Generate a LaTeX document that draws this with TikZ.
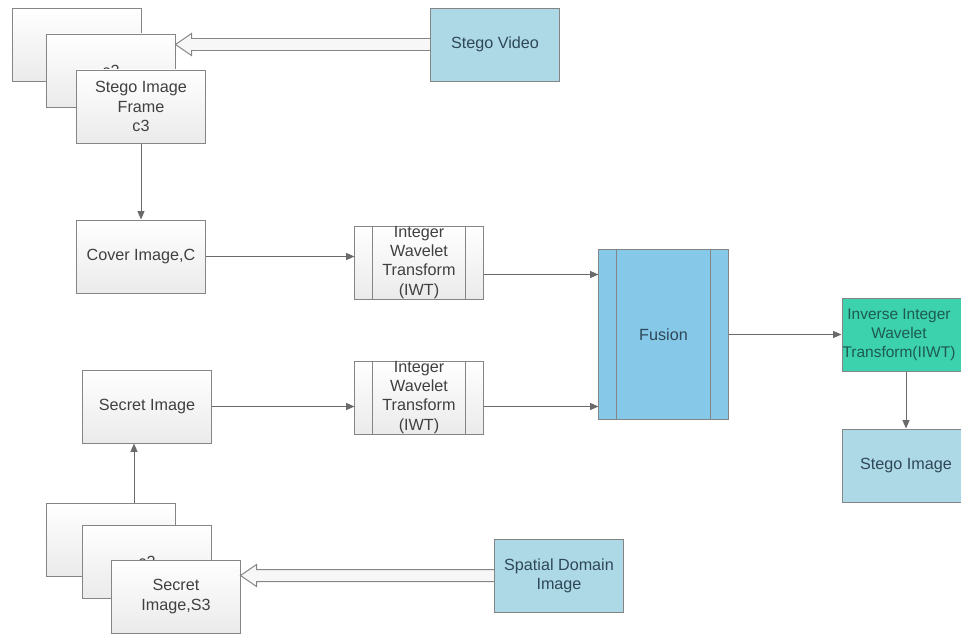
\documentclass[tikz,border=0pt]{standalone}
\usepackage{fontspec}
\setmainfont{Liberation Sans}
\usetikzlibrary{arrows.meta,calc}
\definecolor{boxline}{HTML}{858585}
\definecolor{wireline}{HTML}{6A6A6A}
\definecolor{paleblue}{HTML}{ADD8E6}
\definecolor{fusionblue}{HTML}{86C8E8}
\definecolor{iiwtgreen}{HTML}{3CD2AE}
\definecolor{slatetext}{HTML}{2F4858}
\definecolor{tealtext}{HTML}{1E5A50}

\begin{document}
\begin{tikzpicture}[
  x=0.025cm, y=-0.025cm,
  font=\fontsize{11.5}{13.6}\selectfont,
  basebox/.style={
    draw=boxline,
    line width=0.7pt,
    minimum width=3.2cm,
    minimum height=1.825cm,
    align=center,
    inner sep=0pt
  },
  imgbox/.style={basebox, top color=white, bottom color=black!8, text=black!75},
  bluebox/.style={basebox, fill=paleblue, text=slatetext},
  edge/.style={draw=wireline, line width=0.7pt, -{Triangle[length=6pt,width=5pt]}},
  hollow/.style={draw=boxline, line width=0.7pt, fill=black!3}
]
\useasboundingbox (0,0) rectangle (961,633);

% stego frames
\node[imgbox] (framea) at (77,44.5) {};
\node[imgbox] (frameb) at (111,70.5) {c2};
\node[imgbox] (framec) at (141,106.5) {Stego Image\\Frame\\c3};
\node[bluebox] (video) at (495,44.5) {Stego Video};

% secret frames
\node[imgbox] (slicea) at (111,539.5) {};
\node[imgbox] (sliceb) at (147,561.5) {c2};
\node[imgbox] (slicec) at (176,596.5) {Secret\\Image,S3};
\node[bluebox] (spatial) at (559,575.5) {Spatial Domain\\Image};

\node[imgbox] (cover) at (141,256.5) {Cover Image,C};
\node[imgbox] (secret) at (147,406.5) {Secret Image};
\node[imgbox] (iwta) at (419,262.5) {Integer\\Wavelet\\Transform\\(IWT)};
\node[imgbox] (iwtb) at (419,397.5) {Integer\\Wavelet\\Transform\\(IWT)};
\node[basebox, fill=fusionblue, text=slatetext, minimum width=3.225cm, minimum height=4.225cm] (fusion) at (663.5,334.5) {Fusion};
\node[basebox, fill=iiwtgreen,
  label={[xshift=-5, text=tealtext, align=center, font=\fontsize{11}{13.4}\selectfont]center:Inverse Integer\\Wavelet\\Transform(IIWT)}] (iiwt) at (906,334.5) {};
\node[bluebox] (stego) at (906,465.5) {Stego Image};

\foreach \n in {iwta,iwtb,fusion}{
  \draw[boxline, line width=0.7pt] ($(\n.north west)+(18,0)$) -- ($(\n.south west)+(18,0)$);
  \draw[boxline, line width=0.7pt] ($(\n.north east)+(-18,0)$) -- ($(\n.south east)+(-18,0)$);
}

% hollow arrows
\coordinate (vtip) at (frameb.east |- video.west);
\draw[hollow] (vtip) -- ++(16,-11) -- ++(0,5) -- ($(video.west)+(0,-6)$) -- ++(0,12)
  -- ($(vtip)+(16,6)$) -- ++(0,5) -- cycle;
\coordinate (stip) at (slicec.east |- spatial.west);
\draw[hollow] (stip) -- ++(16,-11) -- ++(0,5) -- ($(spatial.west)+(0,-6)$) -- ++(0,12)
  -- ($(stip)+(16,6)$) -- ++(0,5) -- cycle;

\draw[edge] (framec.south) -- (cover.north);
\draw[edge] (cover.east) -- (cover.east -| iwta.west);
\coordinate (iwtaout) at ($(iwta.east)+(0,12)$);
\draw[edge] (iwtaout) -- (iwtaout -| fusion.west);
\draw[edge] (secret.east) -- (secret.east -| iwtb.west);
\draw[edge] (iwtb.east |- secret.east) -- (secret.east -| fusion.west);
\draw[edge] (fusion.east) -- (iiwt.west);
\draw[edge] (iiwt.south) -- (stego.north);
\coordinate (sliceout) at ($(slicea.north)+(23,0)$);
\draw[edge] (sliceout) -- (sliceout |- secret.south);
\end{tikzpicture}
\end{document}
